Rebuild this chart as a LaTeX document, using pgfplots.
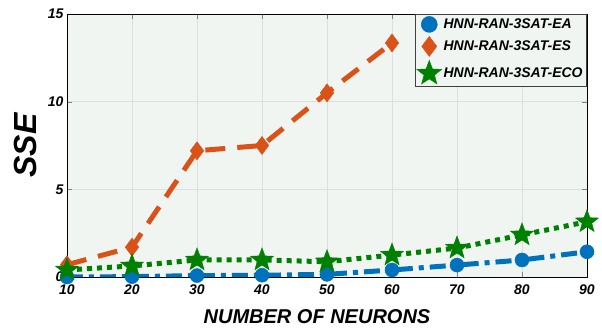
\documentclass[border=0pt]{standalone}
\usepackage{pgfplots}
\pgfplotsset{compat=1.18}
\usepackage{fontspec}
\setmainfont{Liberation Sans}
\usetikzlibrary{plotmarks}
\definecolor{cblue}{RGB}{0,114,189}
\definecolor{corange}{RGB}{217,83,25}
\definecolor{cgreen}{RGB}{0,128,0}
\definecolor{bgc}{RGB}{240,245,242}
\pgfdeclareplotmark{fstar}{%
  \pgfpathmoveto{\pgfpointpolar{90}{\pgfplotmarksize}}%
  \pgfpathlineto{\pgfpointpolar{126}{0.42\pgfplotmarksize}}%
  \pgfpathlineto{\pgfpointpolar{162}{\pgfplotmarksize}}%
  \pgfpathlineto{\pgfpointpolar{198}{0.42\pgfplotmarksize}}%
  \pgfpathlineto{\pgfpointpolar{234}{\pgfplotmarksize}}%
  \pgfpathlineto{\pgfpointpolar{270}{0.42\pgfplotmarksize}}%
  \pgfpathlineto{\pgfpointpolar{306}{\pgfplotmarksize}}%
  \pgfpathlineto{\pgfpointpolar{342}{0.42\pgfplotmarksize}}%
  \pgfpathlineto{\pgfpointpolar{18}{\pgfplotmarksize}}%
  \pgfpathlineto{\pgfpointpolar{54}{0.42\pgfplotmarksize}}%
  \pgfpathclose
  \pgfusepathqfillstroke
}
\begin{document}
\begin{tikzpicture}
\begin{axis}[
  name=ax,
  scale only axis,
  width=520pt, height=263pt,
  xmin=10, xmax=90, ymin=0, ymax=15,
  xtick={10,20,...,90}, ytick={0,5,10,15},
  axis background/.style={fill=bgc},
  grid=major,
  major grid style={draw=black!13, line width=0.8pt},
  tick align=inside,
  major tick length=5pt,
  axis line style={line width=0.8pt},
  /pgf/number format/assume math mode=true,
  tick label style={font=\fontsize{14}{16}\selectfont\bfseries\itshape},
  xticklabel style={yshift=-4pt},
  xlabel={NUMBER OF NEURONS},
  ylabel={SSE},
  xlabel style={font=\fontsize{20}{24}\selectfont\bfseries\itshape, yshift=-8pt, xshift=-10pt},
  ylabel style={font=\fontsize{32}{36}\selectfont\bfseries\itshape, yshift=4pt},
  legend style={at={(rel axis cs:1,1)}, anchor=north east, fill=bgc, draw=black!75, line width=0.8pt,
    font=\fontsize{14}{16}\selectfont\bfseries\itshape, inner sep=2pt, row sep=4pt,
    /tikz/every even column/.append style={column sep=0pt}},
  legend cell align=left,
]
\addplot[cblue, line width=5pt, dash pattern=on 16pt off 6pt on 5pt off 6pt, mark=*, mark size=7pt, mark options={solid, fill=cblue, draw=cblue, line width=0.5pt},
  legend image code/.code={\draw[only marks, mark size=8pt] plot coordinates {(0.25cm,0cm)};}]
  coordinates {(10,0) (20,0.02) (30,0.08) (40,0.1) (50,0.15) (60,0.4) (70,0.68) (80,0.97) (90,1.44)};
\addlegendentry{HNN-RAN-3SAT-EA}
\addplot[corange, line width=5pt, dash pattern=on 20pt off 12pt, mark=diamond*, mark size=9pt, mark options={solid, fill=corange, draw=corange, line width=0.5pt},
  legend image code/.code={\draw[only marks, mark size=10pt] plot coordinates {(0.25cm,0cm)};}]
  coordinates {(10,0.7) (20,1.7) (30,7.2) (40,7.5) (50,10.5) (60,13.35)};
\addlegendentry{HNN-RAN-3SAT-ES}
\addplot[cgreen, line width=5pt, dash pattern=on 5pt off 5pt, mark=fstar, mark size=12pt, mark options={solid, fill=cgreen, draw=cgreen, line width=0.5pt},
  legend image code/.code={\draw[only marks, mark size=13pt] plot coordinates {(0.25cm,0cm)};}]
  coordinates {(10,0.4) (20,0.63) (30,0.97) (40,0.97) (50,0.87) (60,1.25) (70,1.65) (80,2.4) (90,3.15)};
\addlegendentry{HNN-RAN-3SAT-ECO}
\end{axis}
\path (ax.south west) ++(-67pt,-59pt);
\path (ax.north east) ++(15pt,14pt);
\end{tikzpicture}
\end{document}
